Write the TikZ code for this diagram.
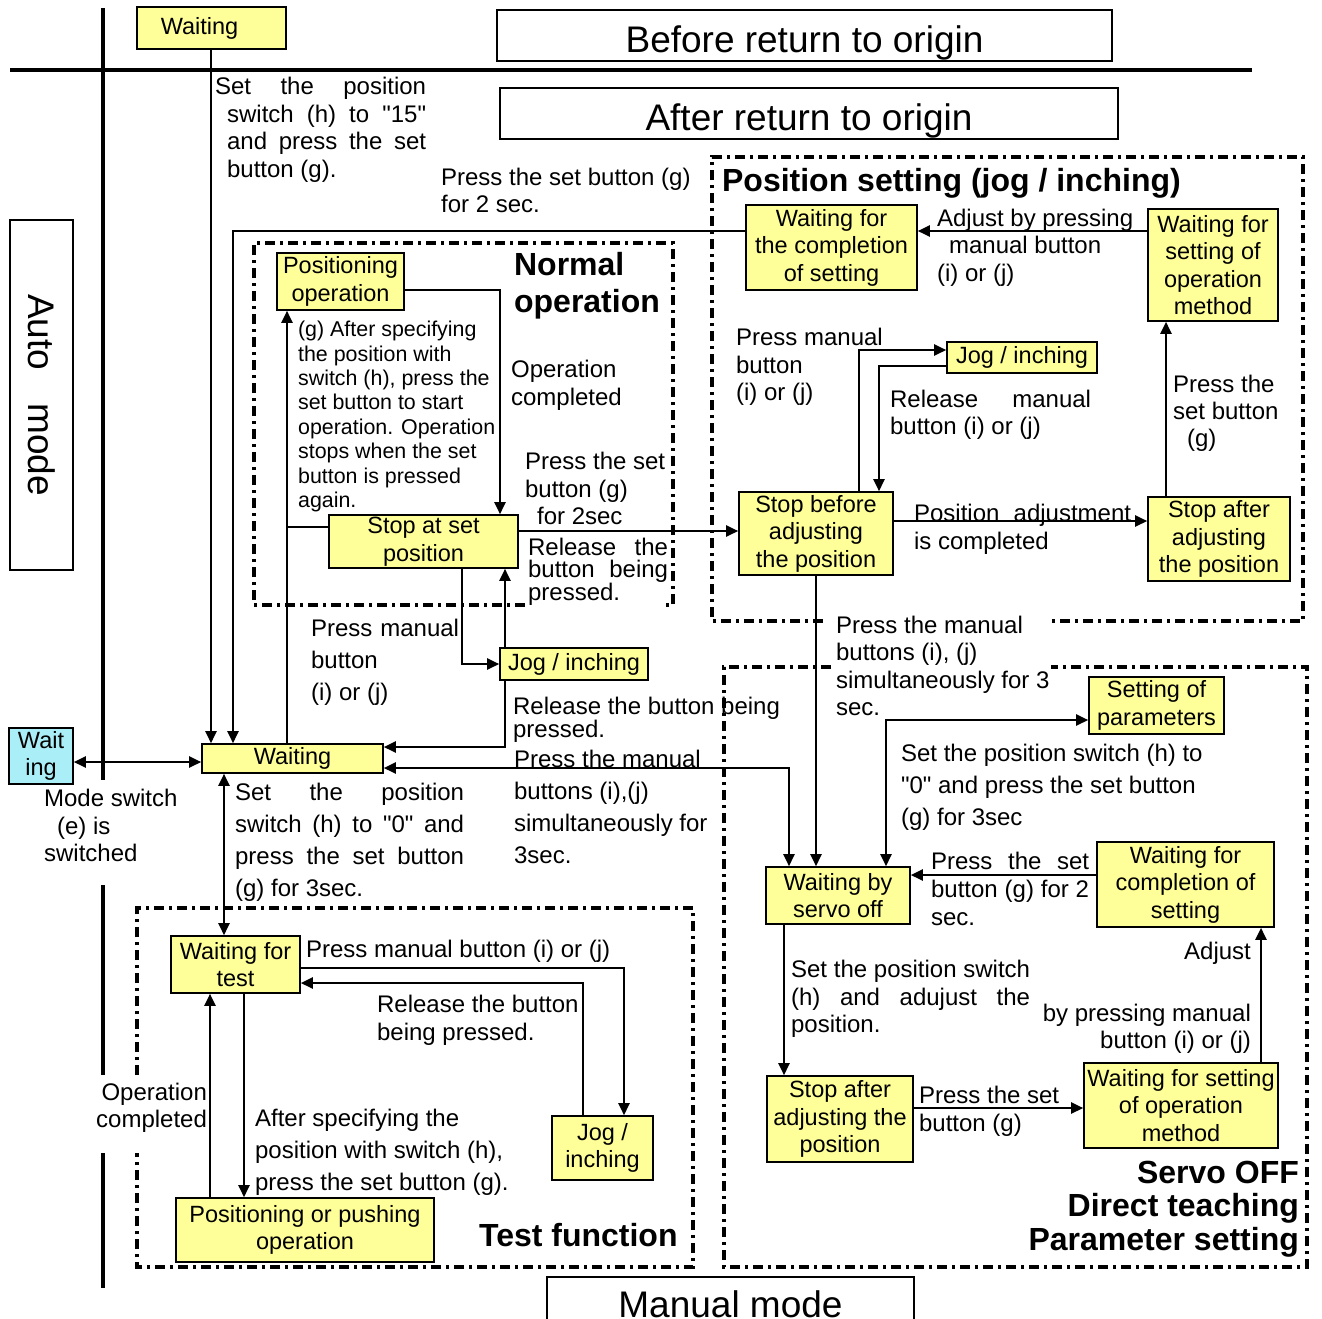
\documentclass[tikz,border=0pt]{standalone}
\usepackage{fontspec}
\setmainfont{Liberation Sans}[Ligatures=TeXOff]
\usetikzlibrary{arrows.meta}
\definecolor{myyel}{RGB}{255,255,153}
\definecolor{mycyan}{RGB}{170,238,248}
\newcommand{\mysp}[2]{\makebox[#1pt][s]{#2}}

\begin{document}
\begin{tikzpicture}[x=1pt, y=-1pt, line width=2.2pt,
  st/.style={draw, fill=myyel, line width=1.6pt, inner sep=0pt, align=center, font=\fontsize{23.5}{27.5}\selectfont},
  ttl/.style={draw, line width=1.6pt, inner sep=0pt, text height=33pt, text depth=0pt, font=\fontsize{37}{40}\selectfont},
  lbl/.style={anchor=north west, inner sep=0pt, align=left, font=\fontsize{24}{#1}\selectfont},
  lbl/.default=27.5,
  hd/.style={anchor=north west, inner sep=0pt, align=left, font=\fontsize{32}{#1}\selectfont\bfseries},
  hd/.default=37,
  arr/.style={-{Triangle[length=12pt,width=11pt]}},
  arr2/.style={{Triangle[length=12pt,width=11pt]}-{Triangle[length=12pt,width=11pt]}},
  area/.style={line width=3.5pt, dash pattern=on 10pt off 5pt on 3pt off 5pt},
  bar/.style={line width=4.5pt}]

\useasboundingbox (0,0) rectangle (1322,1318);

\draw[bar] (10,70) -- (1252,70);
\draw[bar] (103,8) -- (103,780);
\draw[bar] (103,885) -- (103,1075);
\draw[bar] (103,1153) -- (103,1288);

\draw[area] (525,605) -- (254,605) -- (254,243) -- (673,243) -- (673,605) -- (666,605);
\draw[area] (823,621) -- (712,621) -- (712,157) -- (1303,157) -- (1303,621) -- (1051,621);
\draw[area] (831,667) -- (724,667) -- (724,1267) -- (1307,1267) -- (1307,667) -- (1051,667);
\draw[area] (137,1075) -- (137,908) -- (693,908) -- (693,1267) -- (137,1267) -- (137,1153);

\node[ttl, minimum width=615pt, minimum height=51pt] (before) at (804.5,35.5) {Before return to origin};
\node[ttl, minimum width=618pt, minimum height=51pt] (after) at (809,113.5) {After return to origin};
\node[ttl, rotate=-90, minimum width=350pt, minimum height=63pt, text height=26pt] (automode) at (41.5,395) {Auto\hspace{0.9em}mode};
\node[ttl, minimum width=367pt, minimum height=53pt, text height=28pt] (manualmode) at (730.5,1303.5) {Manual mode};

\node[st, minimum width=149pt, minimum height=42pt] (wtop) at (211.5,28) {Waiting\hspace*{24pt}};
\node[st, minimum width=127pt, minimum height=57pt] (posop) at (340.5,281.5) {Positioning\\operation};
\node[st, minimum width=189pt, minimum height=53pt] (stopset) at (423.5,541.5) {Stop at set\\position};
\node[st, minimum width=148pt, minimum height=32pt] (jogn) at (574,664) {Jog / inching};
\node[st, minimum width=181pt, minimum height=29pt] (wmain) at (292.5,758.5) {Waiting};
\node[st, fill=mycyan, minimum width=64pt, minimum height=56pt] (wcyan) at (41,756) {Wait\\ing};
\node[st, minimum width=171pt, minimum height=85pt] (wcomp) at (831.5,247.5) {Waiting for\\the completion\\of setting};
\node[st, minimum width=130pt, minimum height=112pt] (wmeth) at (1213,265) {Waiting for\\setting of\\operation\\method};
\node[st, minimum width=150pt, minimum height=31pt] (jogp) at (1022,357.5) {Jog / inching};
\node[st, minimum width=154pt, minimum height=83pt] (stopbef) at (816,533.5) {Stop before\\adjusting\\the position};
\node[st, minimum width=142pt, minimum height=84pt] (stopaft) at (1219,539) {Stop after\\adjusting\\the position};
\node[st, minimum width=135pt, minimum height=57pt] (setpar) at (1156.5,705.5) {Setting of\\parameters};
\node[st, minimum width=144pt, minimum height=57pt] (wservo) at (838,895.5) {Waiting by\\servo off};
\node[st, minimum width=177pt, minimum height=85pt] (wcomps) at (1185.5,884.5) {Waiting for\\completion of\\setting};
\node[st, minimum width=146pt, minimum height=86pt] (stopafts) at (840,1119) {Stop after\\adjusting the\\position};
\node[st, minimum width=194pt, minimum height=85pt] (wmeths) at (1181,1105.5) {Waiting for setting\\of operation\\method};
\node[st, minimum width=129pt, minimum height=57pt] (wtest) at (235.5,964.5) {Waiting for\\test};
\node[st, minimum width=101pt, minimum height=64pt] (jogt) at (602.5,1148) {Jog /\\inching};
\node[st, minimum width=258pt, minimum height=64pt] (pospush) at (305,1230) {Positioning or pushing\\operation};

\node[hd] (hnormal) at (513,251) {Normal\\operation};
\node[hd] (hposset) at (721,167) {Position setting (jog / inching)};
\node[hd] (htest) at (478,1222) {Test function};
\node[hd=33.5, anchor=north east, align=right] (hservo) at (1300,1160) {Servo OFF\\Direct teaching\\Parameter setting};

\node[lbl=27.7] (l1) at (214,76) {\mysp{211}{Set the position}\\\hspace*{12pt}\mysp{199}{switch (h) to "15"}\\\hspace*{12pt}\mysp{199}{and press the set}\\\hspace*{12pt}button (g).};
\node[lbl=27] (l2) at (440,167) {Press the set button (g)\\for 2 sec.};
\node[lbl=28] (l3) at (510,359) {Operation\\completed};
\node[lbl, font=\fontsize{21.4}{24.4}\selectfont] (l4) at (297,320) {(g) After specifying\\the position with\\switch (h), press the\\set button to start\\operation. Operation\\stops when the set\\button is pressed\\again.};
\node[lbl] (l5) at (524,451) {Press the set\\button (g)\\\hspace*{12pt}for 2sec};
\node[lbl=21.5] (l6) at (527,537) {\mysp{140}{Release the}\\\mysp{140}{button being}\\pressed.};
\node[lbl=32] (l7) at (310,618) {\mysp{148}{Press manual}\\button\\(i) or (j)};
\node[lbl=22] (l8) at (512,696) {Release the button being\\pressed.};
\node[lbl=32] (l9) at (513,749) {Press the manual\\buttons (i),(j)\\simultaneously for\\3sec.};
\node[lbl=32] (l10) at (234,782) {\mysp{229}{Set the position}\\\mysp{229}{switch (h) to "0" and}\\\mysp{229}{press the set button}\\(g) for 3sec.};
\node[lbl] (l11) at (43,788) {Mode switch\\\hspace*{13pt}(e) is\\switched};
\node[lbl=27.3] (l12) at (835,615) {Press the manual\\buttons (i), (j)\\simultaneously for 3\\sec.};
\node[lbl=32] (l13) at (900,743) {Set the position switch (h) to\\"0" and press the set button\\(g) for 3sec};
\node[lbl=28] (l14) at (930,851) {\mysp{158}{Press the set}\\\mysp{158}{button (g) for 2}\\sec.};
\node[lbl] (l15) at (790,959) {\mysp{239}{Set the position switch}\\\mysp{239}{(h) and adujust the}\\position.};
\node[lbl=28] (l16) at (918,1085) {Press the set\\button (g)};
\node[lbl=27, anchor=north east, align=right] (l17) at (1252,941) {Adjust\\[35pt]by pressing manual\\button (i) or (j)};
\node[lbl] (l18) at (936,208) {Adjust by pressing\\\hspace*{12pt}manual button\\(i) or (j)};
\node[lbl] (l19) at (735,327) {Press manual\\button\\(i) or (j)};
\node[lbl=27] (l20) at (889,389) {\mysp{201}{Release manual}\\button (i) or (j)};
\node[lbl=27] (l21) at (1172,374) {Press the\\set button\\\hspace*{14pt}(g)};
\node[lbl=28] (l22) at (913,503) {\mysp{217}{Position adjustment}\\is completed};
\node[lbl] (l23) at (305,939) {Press manual button (i) or (j)};
\node[lbl=28] (l24) at (376,994) {Release the button\\being pressed.};
\node[lbl=32] (l25) at (254,1108) {After specifying the\\position with switch (h),\\press the set button (g).};
\node[lbl=27, anchor=north east, align=right] (l26) at (208,1082) {Operation\\completed};

\draw[arr] (wtop.south -| 211,0) -- (wmain.north -| 211,0);
\draw[arr] (wcomp.west |- 0,231) -| (wmain.north -| 233,0);
\draw[arr] (posop.east |- 0,290) -| (stopset.north -| 500,0);
\draw[arr] (wmain.north -| 287,0) -- (posop.south -| 287,0);
\draw (stopset.west |- 0,527) -- (287,527);
\draw[arr] (stopset.east |- 0,531) -- (stopbef.west |- 0,531);
\draw[arr] (stopset.south -| 462,0) |- (jogn.west);
\draw[arr] (jogn.north -| 505,0) -- (stopset.south -| 505,0);
\draw[arr] (jogn.south -| 505,0) |- (wmain.east |- 0,747);
\draw[arr] (stopbef.south) -- (stopbef.south |- wservo.north);
\draw[arr2] (wmain.east |- 0,768) -| (wservo.north -| 789,0);
\draw[arr2] (wservo.north -| 886,0) |- (setpar.west |- 0,720);
\draw[arr] (wcomps.west |- 0,875) -- (wservo.east |- 0,875);
\draw[arr] (wservo.south -| 784,0) -- (stopafts.north -| 784,0);
\draw[arr] (stopafts.east |- 0,1108) -- (wmeths.west |- 0,1108);
\draw[arr] (wmeths.north -| 1261,0) -- (wcomps.south -| 1261,0);
\draw[arr] (wmeth.west |- 0,231) -- (wcomp.east |- 0,231);
\draw[arr] (stopaft.north -| 1166,0) -- (wmeth.south -| 1166,0);
\draw[arr] (stopbef.east |- 0,521) -- (stopaft.west |- 0,521);
\draw[arr] (stopbef.north -| 859,0) |- (jogp.west |- 0,350);
\draw[arr] (jogp.west |- 0,366) -| (stopbef.north -| 879,0);
\draw[arr2] (wcyan.east |- 0,762) -- (wmain.west |- 0,762);
\draw[arr2] (wmain.south -| 224,0) -- (wtest.north -| 224,0);
\draw[arr] (wtest.east |- 0,968) -| (jogt.north -| 624,0);
\draw[arr] (jogt.north -| 583,0) |- (wtest.east |- 0,983);
\draw[arr] (wtest.south -| 244,0) -- (pospush.north -| 244,0);
\draw[arr] (pospush.north -| 210,0) -- (wtest.south -| 210,0);
\end{tikzpicture}
\end{document}
